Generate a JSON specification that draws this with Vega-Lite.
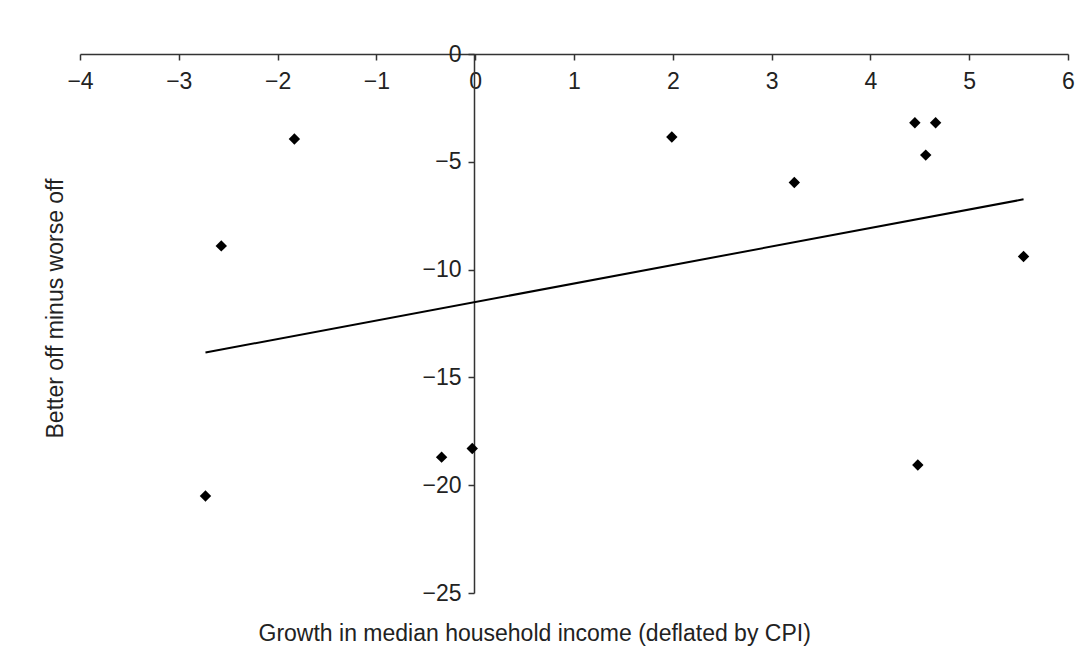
{
  "$schema": "https://vega.github.io/schema/vega-lite/v6.json",
  "autosize": "none",
  "width": 988,
  "height": 539,
  "padding": {"left": 80, "top": 54, "right": 11, "bottom": 57},
  "background": "white",
  "config": {
    "view": {"stroke": null},
    "font": "Liberation Sans",
    "axis": {"grid": false, "domainColor": "#333", "tickColor": "#333", "domainWidth": 1.5, "tickWidth": 1.5, "tickSize": 6, "labelColor": "#222", "labelFont": "Liberation Sans", "labelFontSize": 23, "titleFont": "Liberation Sans", "titleFontSize": 23, "titleFontWeight": "normal", "titleColor": "#222"}
  },
  "data": {
    "values": [
      {"growth": -2.73, "diff": -20.5},
      {"growth": -2.57, "diff": -8.9},
      {"growth": -1.83, "diff": -3.94},
      {"growth": -0.34, "diff": -18.7},
      {"growth": -0.03, "diff": -18.3},
      {"growth": 1.99, "diff": -3.85},
      {"growth": 3.23, "diff": -5.96},
      {"growth": 4.45, "diff": -3.19},
      {"growth": 4.56, "diff": -4.69},
      {"growth": 4.66, "diff": -3.19},
      {"growth": 4.48, "diff": -19.06},
      {"growth": 5.55, "diff": -9.39}
    ]
  },
  "encoding": {
    "x": {
      "field": "growth", "type": "quantitative",
      "scale": {"domain": [-4, 6], "nice": false, "zero": false},
      "axis": {"orient": "bottom", "offset": -539, "values": [-4, -3, -2, -1, 0, 1, 2, 3, 4, 5, 6], "labelPadding": 10, "labelFlush": false,
        "title": "Growth in median household income (deflated by CPI)", "titleX": 178, "titleY": 579, "titleAlign": "left", "titleBaseline": "middle", "titleAnchor": null}
    },
    "y": {
      "field": "diff", "type": "quantitative",
      "scale": {"domain": [-25, 0], "nice": false, "zero": false},
      "axis": {"orient": "left", "offset": -394, "values": [-25, -20, -15, -10, -5, 0], "labelPadding": 7, "labelFlush": false,
        "title": "Better off minus worse off", "titleX": -419, "titleY": 254, "titleAngle": -90, "titleAlign": "center", "titleBaseline": "middle", "titleAnchor": null}
    }
  },
  "layer": [
    {
      "mark": {"type": "point", "shape": "diamond", "filled": true, "color": "black", "size": 130, "opacity": 1}
    },
    {
      "transform": [{"regression": "diff", "on": "growth"}],
      "mark": {"type": "line", "color": "#000", "strokeWidth": 2}
    }
  ]
}
